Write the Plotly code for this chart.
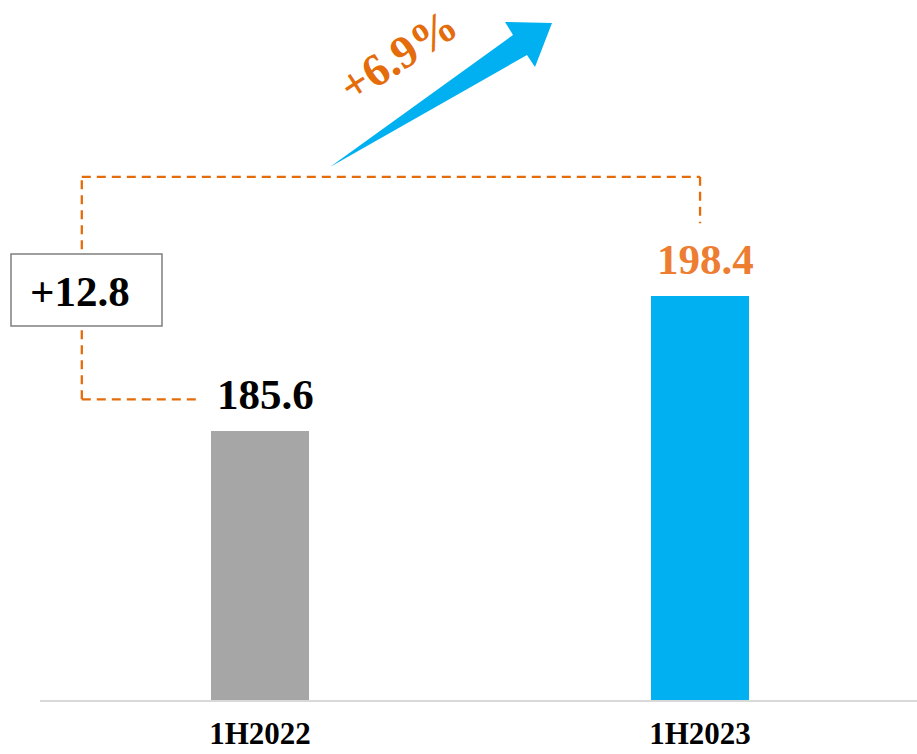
import plotly.graph_objects as go

categories = ["1H2022", "1H2023"]
values = [185.6, 198.4]
bar_colors = ["#A6A6A6", "#00B0F0"]
label_colors = ["#000000", "#ED7D31"]
change_abs = "+12.8"
change_pct = "+6.9%"

W, H = 917, 754
L, T, PH = 40, 0, 700
PW = W - L


def px(x):
    return (x - L) / PW


def py(y):
    return (T + PH - y) / PH


FONT = "Liberation Serif"
ORANGE = "#E46C0A"

fig = go.Figure()
fig.add_trace(go.Bar(
    x=[0, 1], y=values, marker=dict(color=bar_colors, line=dict(width=0)),
    width=0.223, hoverinfo="skip", showlegend=False,
))

annotations = []
for i, v in enumerate(values):
    annotations.append(dict(
        x=i + 0.013, y=v, xref="x", yref="y", text=f"{v:.1f}", showarrow=False,
        xanchor="center", yanchor="bottom", yshift=11,
        font=dict(family=FONT, size=43, color=label_colors[i], weight="bold"),
    ))

# dashed bracket (data coordinates relative to bar values)
low_y = values[0] + 3.0
top_y = values[1] + 11.3
right_end = values[1] + 6.9
left_x = -0.405
low_end_x = -0.143
dash = dict(color=ORANGE, width=2.3, dash="9px,6px")
shapes = [
    dict(type="line", xref="x", yref="y", x0=left_x, x1=left_x, y0=low_y, y1=top_y, line=dash, layer="above"),
    dict(type="line", xref="x", yref="y", x0=left_x, x1=low_end_x, y0=low_y, y1=low_y, line=dash, layer="above"),
    dict(type="line", xref="x", yref="y", x0=left_x, x1=1, y0=top_y, y1=top_y, line=dash, layer="above"),
    dict(type="line", xref="x", yref="y", x0=1, x1=1, y0=top_y, y1=right_end, line=dash, layer="above"),
]
# box for +12.8
shapes.append(dict(type="rect", xref="paper", yref="paper",
                   x0=px(11), x1=px(162), y0=py(326), y1=py(254),
                   fillcolor="white", line=dict(color="#7F7F7F", width=1.5), layer="above"))
annotations.append(dict(
    x=px(80), y=py(291), xref="paper", yref="paper", text=change_abs, showarrow=False,
    xanchor="center", yanchor="middle",
    font=dict(family=FONT, size=43, color="black", weight="bold"),
))

# growth arrow
pts = [(330, 167), (527, 55), (535, 67), (552, 23), (505, 22), (513, 35)]
path = "M " + " L ".join(f"{px(x):.5f},{py(y):.5f}" for x, y in pts) + " Z"
shapes.append(dict(type="path", xref="paper", yref="paper", path=path,
                   fillcolor="#00B0F0", line=dict(width=0), layer="above"))
annotations.append(dict(
    x=px(398), y=py(55), xref="paper", yref="paper", text=change_pct, showarrow=False,
    xanchor="center", yanchor="middle",
    textangle=-33, font=dict(family=FONT, size=46, color=ORANGE, weight="bold"),
))

fig.update_layout(
    width=W, height=H,
    margin=dict(l=L, r=0, t=T, b=H - PH - T, pad=0),
    paper_bgcolor="white", plot_bgcolor="white",
    xaxis=dict(
        tickmode="array", tickvals=[0, 1], ticktext=categories,
        range=[-0.5, 1.493], showgrid=False, zeroline=False,
        showline=True, linecolor="#D9D9D9", linewidth=2,
        ticks="", ticklabelstandoff=5,
        tickfont=dict(family=FONT, size=31, color="black", weight="bold"),
        automargin=False, fixedrange=True,
    ),
    yaxis=dict(range=[160.095, 226.46], visible=False, automargin=False, fixedrange=True),
    shapes=shapes, annotations=annotations,
    bargap=0,
)

fig.write_html("out.html", config={"displayModeBar": False},
               post_script="document.body.style.margin='0';document.body.style.overflow='hidden';")
